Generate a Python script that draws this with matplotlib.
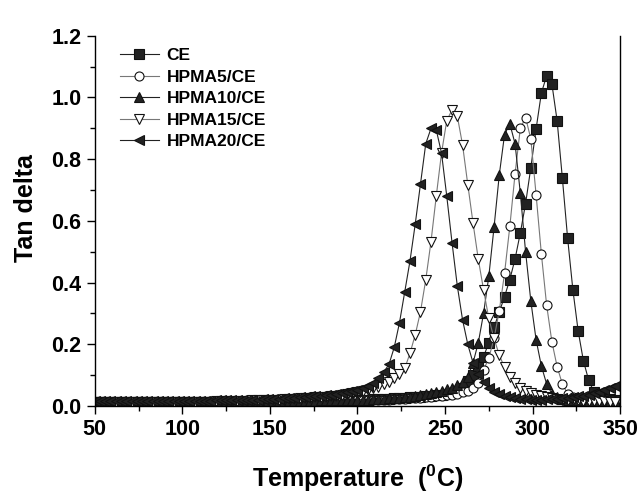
import numpy as np
import matplotlib.pyplot as plt

plt.rcParams['font.family'] = ['Liberation Sans', 'DejaVu Sans']
plt.rcParams['font.weight'] = 'bold'
plt.rcParams['mathtext.fontset'] = 'custom'
plt.rcParams['mathtext.rm'] = 'Liberation Sans:bold'

# temperature grid (deg C), 3 degree steps
temps = np.arange(50, 350, 3)

ce = [0.012]*10 + [0.012]*10 + \
    [0.013, 0.013, 0.013, 0.013, 0.013, 0.014, 0.014, 0.014, 0.014, 0.014] + \
    [0.014, 0.015, 0.015, 0.015, 0.015, 0.015, 0.016, 0.016, 0.016, 0.016] + \
    [0.016, 0.017, 0.017, 0.017, 0.018, 0.018, 0.018, 0.019, 0.019, 0.020] + \
    [0.020, 0.021, 0.021, 0.022, 0.022, 0.023, 0.024, 0.025, 0.026, 0.027] + \
    [0.028, 0.029, 0.030, 0.032, 0.033, 0.035, 0.037, 0.040, 0.043, 0.048] + \
    [0.060, 0.080, 0.100, 0.130, 0.160, 0.205, 0.255, 0.305, 0.355, 0.410] + \
    [0.477, 0.561, 0.656, 0.773, 0.898, 1.014, 1.070, 1.045, 0.925, 0.739] + \
    [0.544, 0.377, 0.244, 0.147, 0.084, 0.046, 0.032, 0.026, 0.023, 0.021]

hpma5 = [0.012]*10 + [0.013]*10 + \
    [0.013, 0.013, 0.013, 0.014, 0.014, 0.014, 0.014, 0.014, 0.014, 0.014] + \
    [0.014, 0.014, 0.015, 0.015, 0.015, 0.015, 0.015, 0.015, 0.015, 0.015] + \
    [0.015, 0.015, 0.016, 0.016, 0.016, 0.017, 0.017, 0.017, 0.018, 0.018] + \
    [0.018, 0.019, 0.019, 0.020, 0.020, 0.021, 0.021, 0.022, 0.023, 0.024] + \
    [0.025, 0.026, 0.027, 0.028, 0.030, 0.031, 0.033, 0.035, 0.037, 0.040] + \
    [0.044, 0.050, 0.058, 0.075, 0.117, 0.155, 0.220, 0.309, 0.431, 0.582] + \
    [0.753, 0.900, 0.935, 0.866, 0.685, 0.494, 0.328, 0.209, 0.128, 0.071] + \
    [0.040, 0.030, 0.025, 0.022, 0.020, 0.019, 0.018, 0.018, 0.017, 0.016]

hpma10 = [0.013]*10 + [0.013]*10 + \
    [0.014, 0.014, 0.014, 0.014, 0.014, 0.014, 0.014, 0.015, 0.015, 0.015] + \
    [0.015, 0.015, 0.015, 0.015, 0.016, 0.016, 0.016, 0.016, 0.017, 0.017] + \
    [0.017, 0.017, 0.017, 0.018, 0.018, 0.018, 0.019, 0.019, 0.019, 0.020] + \
    [0.020, 0.021, 0.021, 0.022, 0.023, 0.024, 0.025, 0.026, 0.027, 0.028] + \
    [0.030, 0.032, 0.035, 0.038, 0.041, 0.045, 0.049, 0.054, 0.060, 0.067] + \
    [0.077, 0.095, 0.140, 0.205, 0.300, 0.420, 0.580, 0.750, 0.880, 0.915] + \
    [0.850, 0.690, 0.500, 0.340, 0.215, 0.130, 0.072, 0.040, 0.028, 0.022] + \
    [0.020, 0.019, 0.018, 0.018, 0.017, 0.017, 0.017, 0.016, 0.016, 0.016]

hpma15 = [0.012]*10 + [0.013]*10 + \
    [0.014, 0.014, 0.014, 0.015, 0.015, 0.015, 0.016, 0.016, 0.017, 0.017] + \
    [0.018, 0.018, 0.019, 0.019, 0.020, 0.021, 0.022, 0.023, 0.024, 0.025] + \
    [0.026, 0.027, 0.028, 0.029, 0.030, 0.032, 0.034, 0.036, 0.039, 0.042] + \
    [0.045, 0.048, 0.052, 0.057, 0.063, 0.070, 0.079, 0.090, 0.104, 0.122] + \
    [0.171, 0.231, 0.306, 0.409, 0.533, 0.680, 0.820, 0.925, 0.960, 0.940] + \
    [0.847, 0.718, 0.593, 0.476, 0.377, 0.284, 0.219, 0.165, 0.125, 0.095] + \
    [0.075, 0.060, 0.050, 0.042, 0.036, 0.032, 0.028, 0.025, 0.023, 0.021] + \
    [0.020, 0.019, 0.018, 0.017, 0.016, 0.016, 0.015, 0.015, 0.014, 0.014]

hpma20 = [0.015]*10 + [0.016]*10 + \
    [0.017, 0.017, 0.017, 0.018, 0.018, 0.018, 0.019, 0.019, 0.020, 0.020] + \
    [0.021, 0.021, 0.022, 0.022, 0.023, 0.024, 0.025, 0.026, 0.027, 0.028] + \
    [0.030, 0.031, 0.032, 0.034, 0.035, 0.037, 0.039, 0.042, 0.045, 0.048] + \
    [0.052, 0.058, 0.066, 0.076, 0.090, 0.110, 0.135, 0.190, 0.270, 0.370] + \
    [0.470, 0.590, 0.720, 0.850, 0.900, 0.895, 0.820, 0.680, 0.530, 0.390] + \
    [0.280, 0.200, 0.140, 0.105, 0.078, 0.060, 0.047, 0.038, 0.032, 0.028] + \
    [0.025, 0.023, 0.022, 0.021, 0.021, 0.021, 0.022, 0.023, 0.024, 0.025] + \
    [0.027, 0.029, 0.031, 0.034, 0.037, 0.041, 0.046, 0.052, 0.059, 0.066]

labels = ['CE', 'HPMA5/CE', 'HPMA10/CE', 'HPMA15/CE', 'HPMA20/CE']
series = [ce, hpma5, hpma10, hpma15, hpma20]
markers = ['s', 'o', '^', 'v', '<']
filled = [True, False, True, False, True]

fig = plt.figure(figsize=(6.4, 4.97), dpi=100)
ax = fig.add_axes([0.148, 0.183, 0.821, 0.745])

for y, lab, m, f in zip(series, labels, markers, filled):
    ax.plot(temps, y, marker=m, ms=6.5, lw=0.8,
            color='#222222' if f else '#777777',
            mfc='#222222' if f else 'white', mec='#111111', mew=0.8,
            label=lab)

ax.set_xlim(50, 350)
ax.set_ylim(0, 1.2)
ax.set_xticks(np.arange(50, 351, 50))
ax.set_xticks(np.arange(75, 350, 50), minor=True)
ax.set_yticks(np.arange(0, 1.21, 0.2))
ax.set_yticks(np.arange(0.1, 1.2, 0.2), minor=True)
ax.tick_params(which='major', direction='out', length=6, width=1, labelsize=15.5)
ax.tick_params(which='minor', direction='out', length=3.5, width=1)
ax.yaxis.set_major_formatter(plt.FormatStrFormatter('%.1f'))
for s in ax.spines.values():
    s.set_linewidth(1.0)
ax.spines['top'].set_visible(False)

ax.set_xlabel('Temperature  ($^0$C)', fontsize=18, fontweight='bold', labelpad=16)
ax.set_ylabel('Tan delta', fontsize=18, fontweight='bold', labelpad=10, y=0.535)

ax.legend(loc='upper left', bbox_to_anchor=(0.034, 0.986), frameon=False,
          fontsize=12.5, handlelength=2.3, handletextpad=0.4, labelspacing=0.37,
          borderaxespad=0)

plt.savefig('out.png', dpi=100)
